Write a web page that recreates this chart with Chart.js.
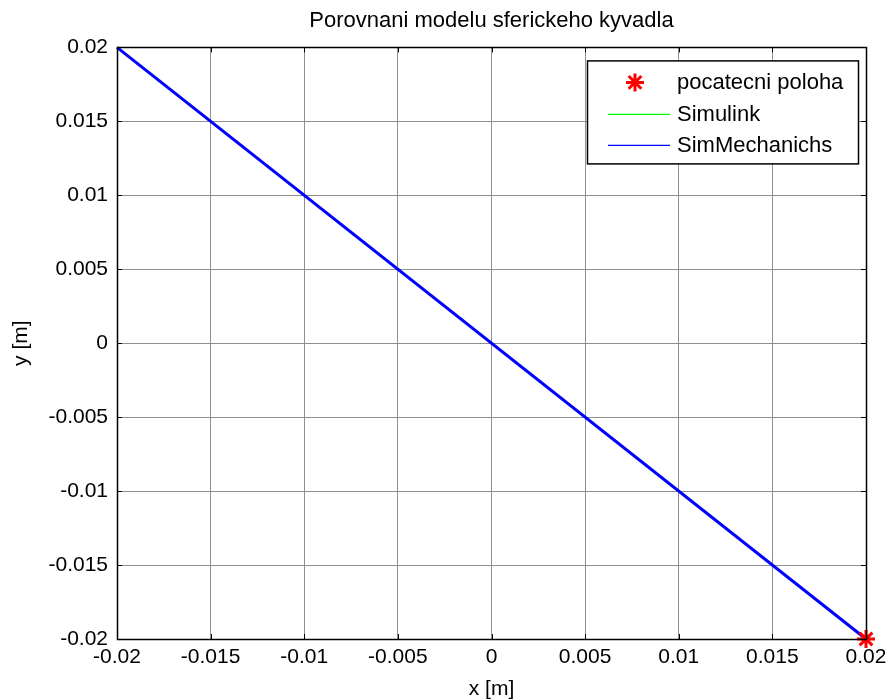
<!DOCTYPE html>
<html>
<head>
<meta charset="utf-8">
<title>Porovnani modelu sferickeho kyvadla</title>
<script src="https://cdn.jsdelivr.net/npm/chart.js"></script>
<style>
    html, body { margin: 0; padding: 0; background: #fff; }
    #wrap { width: 893px; height: 700px; }
</style>
</head>
<body>
<div id="wrap"><canvas id="kyvadloChart" width="893" height="700"></canvas></div>
<script>
// Axis ticks
const xTicks = [-0.02, -0.015, -0.01, -0.005, 0, 0.005, 0.01, 0.015, 0.02];
const xTickLabels = ['-0.02', '-0.015', '-0.01', '-0.005', '0', '0.005', '0.01', '0.015', '0.02'];
const yTicks = [-0.02, -0.015, -0.01, -0.005, 0, 0.005, 0.01, 0.015, 0.02];
const yTickLabels = ['-0.02', '-0.015', '-0.01', '-0.005', '0', '0.005', '0.01', '0.015', '0.02'];

// Starting position
const startX = [0.02];
const startY = [-0.02];

// Trajectory from the Simulink model
const simulinkX = [0.02, -0.02];
const simulinkY = [-0.02, 0.02];

// Trajectory from the SimMechanics model
const simMechX = [0.02, -0.02];
const simMechY = [-0.02, 0.02];

const FONT = "'Liberation Sans', Arial, sans-serif";

function toPoints(xs, ys) {
    return xs.map(function(x, i) { return { x: x, y: ys[i] }; });
}

// Black box around the axes with short inward tick marks
const axesFrame = {
    id: 'axesFrame',
    afterDatasetsDraw(chart) {
        const ctx = chart.ctx;
        const a = chart.chartArea;
        const xs = chart.scales.x;
        const ys = chart.scales.y;
        const len = 5;
        ctx.save();
        ctx.strokeStyle = '#000';
        ctx.lineWidth = 1;
        ctx.beginPath();
        xTicks.forEach(function(v) {
            const px = Math.round(xs.getPixelForValue(v)) + 0.5;
            ctx.moveTo(px, a.bottom); ctx.lineTo(px, a.bottom - len);
            ctx.moveTo(px, a.top); ctx.lineTo(px, a.top + len);
        });
        yTicks.forEach(function(v) {
            const py = Math.round(ys.getPixelForValue(v)) + 0.5;
            ctx.moveTo(a.left, py); ctx.lineTo(a.left + len, py);
            ctx.moveTo(a.right, py); ctx.lineTo(a.right - len, py);
        });
        ctx.stroke();
        ctx.lineWidth = 1.5;
        ctx.strokeRect(Math.round(a.left) + 0.5, Math.round(a.top) + 0.5,
            Math.round(a.right - a.left), Math.round(a.bottom - a.top));
        ctx.restore();
    }
};

// Boxed legend in the upper right corner of the axes
const boxLegend = {
    id: 'boxLegend',
    afterDraw(chart) {
        const ctx = chart.ctx;
        const a = chart.chartArea;
        const w = 271, h = 103;
        const left = a.right - 8 - w;
        const top = a.top + 13;
        const rows = [22, 54, 85];
        ctx.save();
        ctx.fillStyle = '#fff';
        ctx.fillRect(left, top, w, h);
        ctx.strokeStyle = '#000';
        ctx.lineWidth = 1.5;
        ctx.strokeRect(left + 0.5, top + 0.5, w, h);
        ctx.font = '22px ' + FONT;
        ctx.textBaseline = 'middle';
        ctx.textAlign = 'left';
        chart.data.datasets.forEach(function(ds, i) {
            const cy = top + rows[i];
            if (ds.showLine) {
                ctx.strokeStyle = ds.borderColor;
                ctx.lineWidth = 1.2;
                ctx.beginPath();
                ctx.moveTo(left + 21, cy);
                ctx.lineTo(left + 83, cy);
                ctx.stroke();
            } else {
                ctx.strokeStyle = ds.borderColor;
                ctx.fillStyle = ds.backgroundColor;
                ctx.lineWidth = ds.borderWidth;
                Chart.helpers.drawPoint(ctx, {
                    pointStyle: ds.pointStyle, radius: ds.pointRadius,
                    rotation: 0, borderWidth: ds.borderWidth
                }, left + 48, cy);
            }
            ctx.fillStyle = '#000';
            ctx.fillText(ds.label, left + 90, cy + 1);
        });
        ctx.restore();
    }
};

const ctx = document.getElementById('kyvadloChart').getContext('2d');
const chart = new Chart(ctx, {
    type: 'scatter',
    data: {
        datasets: [{
            label: 'pocatecni poloha',
            data: toPoints(startX, startY),
            pointStyle: 'star',
            pointRadius: 9,
            borderWidth: 3,
            borderColor: '#ff0000',
            backgroundColor: '#ff0000',
            showLine: false,
            clip: false,
            order: 0
        }, {
            label: 'Simulink',
            data: toPoints(simulinkX, simulinkY),
            showLine: true,
            borderColor: '#00ff00',
            borderWidth: 1,
            pointRadius: 0,
            clip: false,
            order: 2
        }, {
            label: 'SimMechanichs',
            data: toPoints(simMechX, simMechY),
            showLine: true,
            borderColor: '#0000ff',
            borderWidth: 3,
            pointRadius: 0,
            clip: false,
            order: 1
        }]
    },
    options: {
        responsive: false,
        animation: false,
        layout: {
            padding: { left: 0, top: 0, right: 27, bottom: 0 }
        },
        plugins: {
            legend: { display: false },
            tooltip: { enabled: false },
            title: {
                display: true,
                fullSize: false,
                text: 'Porovnani modelu sferickeho kyvadla',
                color: '#000',
                font: { family: FONT, size: 22, weight: 'normal', lineHeight: 1.2 },
                padding: { top: 8, bottom: 13 }
            }
        },
        scales: {
            x: {
                type: 'linear',
                min: -0.02,
                max: 0.02,
                afterBuildTicks: function(scale) {
                    scale.ticks = xTicks.map(function(v) { return { value: v }; });
                },
                afterFit: function(scale) { scale.height = 61; },
                ticks: {
                    color: '#000',
                    font: { family: FONT, size: 21 },
                    padding: 6,
                    maxRotation: 0,
                    autoSkip: false,
                    callback: function(value, index) { return xTickLabels[index]; }
                },
                grid: { color: '#8f8f8f', lineWidth: 1, drawTicks: false },
                border: { display: false },
                title: {
                    display: true,
                    text: 'x [m]',
                    color: '#000',
                    font: { family: FONT, size: 21, lineHeight: 1.2 },
                    padding: { top: 0, bottom: -2 }
                }
            },
            y: {
                type: 'linear',
                min: -0.02,
                max: 0.02,
                afterBuildTicks: function(scale) {
                    scale.ticks = yTicks.map(function(v) { return { value: v }; });
                },
                afterFit: function(scale) { scale.width = 117; },
                ticks: {
                    color: '#000',
                    font: { family: FONT, size: 21 },
                    padding: 9,
                    autoSkip: false,
                    callback: function(value, index) { return yTickLabels[index]; }
                },
                grid: { color: '#8f8f8f', lineWidth: 1, drawTicks: false },
                border: { display: false },
                title: {
                    display: true,
                    text: 'y [m]',
                    color: '#000',
                    font: { family: FONT, size: 21, lineHeight: 1.2 },
                    padding: { top: 9, bottom: 0 }
                }
            }
        }
    },
    plugins: [axesFrame, boxLegend]
});
</script>
</body>
</html>
